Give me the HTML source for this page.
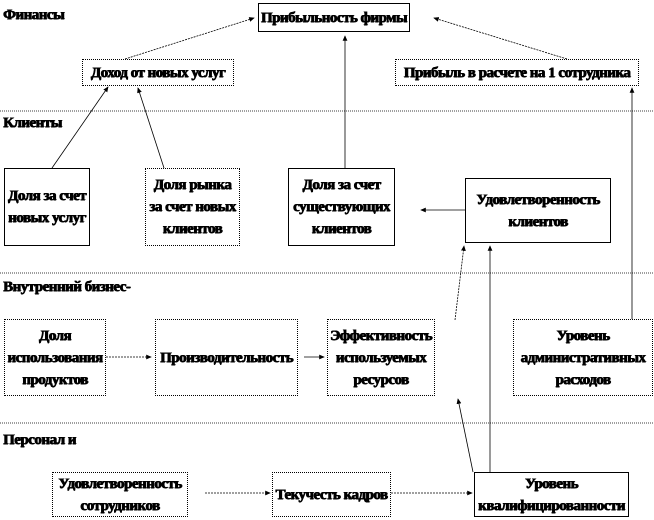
<!DOCTYPE html>
<html><head><meta charset="utf-8"><style>
body{margin:0;width:654px;height:520px;background:#fff;position:relative;overflow:hidden;font-family:"Liberation Serif","DejaVu Serif",serif;font-weight:bold;font-size:15px;letter-spacing:-0.5px;color:#000;text-shadow:0.6px 0 #000,0 0.4px #000,-0.3px 0 #000}
.b{position:absolute;border:1px solid #000;box-sizing:border-box;display:flex;align-items:center;justify-content:center;text-align:center;line-height:22px;background:#fff;white-space:nowrap}
.d{border-style:dotted}
.l{position:absolute;white-space:nowrap}
svg{position:absolute;left:0;top:0}
</style></head><body>
<svg width="654" height="520">
<defs><marker id="a" markerWidth="8" markerHeight="8" refX="6" refY="3" orient="auto"><path d="M0,0 L7,3 L0,6z" fill="#000"/></marker></defs>
<g stroke="#000" stroke-width="0.8" fill="none">
<line x1="0" y1="111" x2="654" y2="111" stroke-dasharray="1,1"/>
<line x1="0" y1="273" x2="654" y2="273" stroke-dasharray="1,1"/>
<line x1="0" y1="423" x2="654" y2="423" stroke-dasharray="1,1"/>
<line x1="125" y1="59" x2="254" y2="18" stroke-dasharray="2,1" marker-end="url(#a)"/>
<line x1="567" y1="59" x2="434" y2="18" stroke-dasharray="2,1" marker-end="url(#a)"/>
<line x1="345" y1="168" x2="345" y2="36" marker-end="url(#a)"/>
<line x1="52" y1="168" x2="108" y2="87" marker-end="url(#a)"/>
<line x1="164" y1="168" x2="138" y2="88" marker-end="url(#a)"/>
<line x1="465" y1="210" x2="421" y2="210" marker-end="url(#a)"/>
<line x1="632" y1="319" x2="632" y2="88" marker-end="url(#a)"/>
<line x1="455" y1="320" x2="464" y2="246" stroke-dasharray="2,1" marker-end="url(#a)"/>
<line x1="490" y1="472" x2="490" y2="246" marker-end="url(#a)"/>
<line x1="473" y1="472" x2="458" y2="399" marker-end="url(#a)"/>
<line x1="106" y1="357" x2="151" y2="357" stroke-dasharray="2,1" marker-end="url(#a)"/>
<line x1="304" y1="357" x2="324" y2="357" marker-end="url(#a)"/>
<line x1="205" y1="493" x2="270" y2="493" stroke-dasharray="2,1" marker-end="url(#a)"/>
<line x1="340" y1="493" x2="472" y2="493" stroke-dasharray="2,1" marker-end="url(#a)"/>
</g></svg>
<div class="l" style="left:3px;top:7px">Финансы</div>
<div class="l" style="left:3px;top:115px">Клиенты</div>
<div class="l" style="left:3px;top:279px">Внутренний бизнес-</div>
<div class="l" style="left:3px;top:432px">Персонал и</div>
<div class="b" style="left:258px;top:3px;width:152px;height:29px">Прибыльность фирмы</div>
<div class="b d" style="left:82px;top:59px;width:152px;height:27px">Доход от новых услуг</div>
<div class="b d" style="left:395px;top:59px;width:244px;height:27px">Прибыль в расчете на 1 сотрудника</div>
<div class="b" style="left:4px;top:168px;width:86px;height:78px">Доля за счет<br>новых услуг</div>
<div class="b d" style="left:145px;top:168px;width:95px;height:78px">Доля рынка<br>за счет новых<br>клиентов</div>
<div class="b" style="left:288px;top:168px;width:107px;height:78px">Доля за счет<br>существующих<br>клиентов</div>
<div class="b" style="left:465px;top:178px;width:146px;height:65px">Удовлетворенность<br>клиентов</div>
<div class="b d" style="left:4px;top:319px;width:102px;height:77px">Доля<br>использования<br>продуктов</div>
<div class="b d" style="left:155px;top:319px;width:143px;height:77px">Производительность</div>
<div class="b d" style="left:327px;top:319px;width:108px;height:77px">Эффективность<br>используемых<br>ресурсов</div>
<div class="b d" style="left:513px;top:319px;width:140px;height:77px">Уровень<br>административных<br>расходов</div>
<div class="b d" style="left:52px;top:472px;width:136px;height:45px">Удовлетворенность<br>сотрудников</div>
<div class="b d" style="left:272px;top:472px;width:119px;height:45px">Текучесть кадров</div>
<div class="b" style="left:474px;top:472px;width:155px;height:45px">Уровень<br>квалифицированности</div>
</body></html>
